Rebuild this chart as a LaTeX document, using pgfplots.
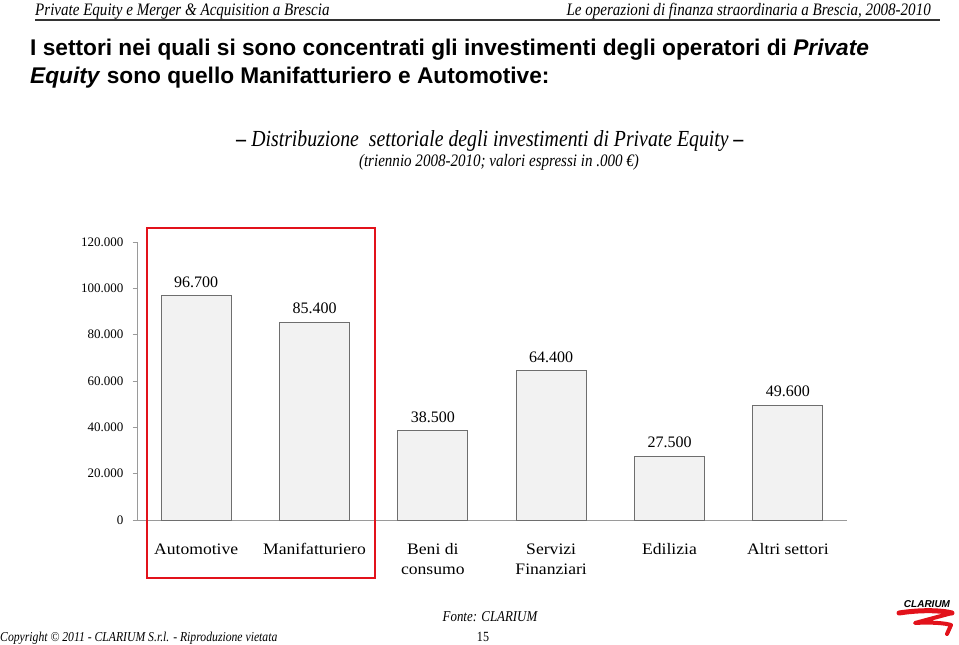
\documentclass[border=0pt]{standalone}
\usepackage{fontspec}
\setmainfont{Liberation Serif}
\newfontfamily\arialfont{Liberation Sans}
\newfontfamily\condserif[FakeStretch=0.86]{Liberation Serif}
\newfontfamily\wideserif[FakeStretch=1.1]{Liberation Serif}
\usepackage{pgfplots}
\pgfplotsset{compat=1.18}
\definecolor{barfill}{HTML}{F2F2F2}
\definecolor{bardraw}{HTML}{6E6E6E}
\definecolor{axisgray}{HTML}{9A9A9A}
\definecolor{clred}{HTML}{E2121B}
\newcommand{\fs}[2]{\fontsize{#1bp}{#2bp}\selectfont}
\begin{document}
\begin{tikzpicture}
\path (0bp,0bp) rectangle (959bp,-645bp);
% header
\node[anchor=base west, inner sep=0] at (35bp,-15bp) {\condserif\fs{17.5}{20}\itshape Private Equity e Merger \& Acquisition a Brescia};
\node[anchor=base east, inner sep=0] at (931bp,-15bp) {\condserif\fs{17.5}{20}\itshape Le operazioni di finanza straordinaria a Brescia, 2008-2010};
\draw[black!80, line width=1.5bp] (35bp,-20bp) -- (940bp,-20bp);
% title
\node[anchor=base west, inner sep=0] at (30bp,-55bp) {\arialfont\bfseries\fs{22.7}{25}I settori nei quali si sono concentrati gli investimenti degli operatori di \textit{Private}};
\node[anchor=base west, inner sep=0] at (30bp,-83bp) {\arialfont\bfseries\fs{22.7}{25}\textit{Equity} sono quello Manifatturiero e Automotive:};
% subtitle
\node[anchor=base, inner sep=0] at (490bp,-146bp) {\condserif\fs{23}{25}\itshape {\bfseries –} Distribuzione\ \ settoriale degli investimenti di Private Equity {\bfseries –}};
\node[anchor=base, inner sep=0] at (499bp,-166bp) {\condserif\fs{17.5}{20}\itshape (triennio 2008-2010; valori espressi in .000 €)};
% chart
\begin{axis}[
  at={(137bp,-520bp)}, anchor=south west,
  scale only axis, width=710bp, height=278bp,
  xmin=-0.5, xmax=5.5, ymin=0, ymax=120000,
  axis x line*=bottom, axis y line*=left,
  axis line style={axisgray, line width=1bp, -},
  xtick=data,
  xticklabels={{Automotive},{Manifatturiero},{Beni di\\consumo},{Servizi\\Finanziari},{Edilizia},{Altri settori}},
  xticklabel style={font=\wideserif\fs{16}{20}, align=center, inner sep=0, anchor=north, yshift=-19bp},
  x tick style={draw=none},
  ytick={0,20000,40000,60000,80000,100000,120000},
  scaled y ticks=false,
  y tick style={axisgray, line width=0.8bp},
  tick align=outside, major tick length=4.5bp,
  yticklabel style={font=\fs{13}{15}, inner sep=0, xshift=-9bp},
  /pgf/number format/.cd, fixed, 1000 sep={.}, assume math mode=true,
]
\addplot[ybar, bar width=0.59, fill=barfill, draw=bardraw, line width=1bp,
  nodes near coords, every node near coord/.append style={font=\fs{16}{18}, inner sep=0, anchor=south, yshift=8bp, black}]
  coordinates {(0,96700) (1,85400) (2,38500) (3,64400) (4,27500) (5,49600)};
\end{axis}
\draw[clred, line width=2.5bp] (147bp,-228bp) rectangle (375bp,-578bp);
% footer
\node[anchor=base, inner sep=0] at (490bp,-621bp) {\condserif\fs{15}{16}\itshape Fonte: CLARIUM};
\node[anchor=base, inner sep=0] at (483bp,-641bp) {\condserif\fs{14}{16}15};
\node[anchor=base west, inner sep=0] at (0bp,-641bp) {\condserif\fs{13.6}{16}\itshape Copyright © 2011 - CLARIUM S.r.l. - Riproduzione vietata};
% logo
\node[anchor=base, inner sep=0] at (927bp,-607bp) {\arialfont\bfseries\itshape\fs{10}{12}CLARIUM};
\draw[clred, line width=5bp, line cap=round] (899bp,-613bp) .. controls (925bp,-609bp) and (945bp,-611bp) .. (952bp,-613bp);
\draw[clred, line width=4bp, line cap=round, line join=round] (952bp,-613bp) -- (915bp,-623bp) .. controls (930bp,-622bp) and (945bp,-623bp) .. (951bp,-625bp) -- (947bp,-634bp);
\end{tikzpicture}
\end{document}
